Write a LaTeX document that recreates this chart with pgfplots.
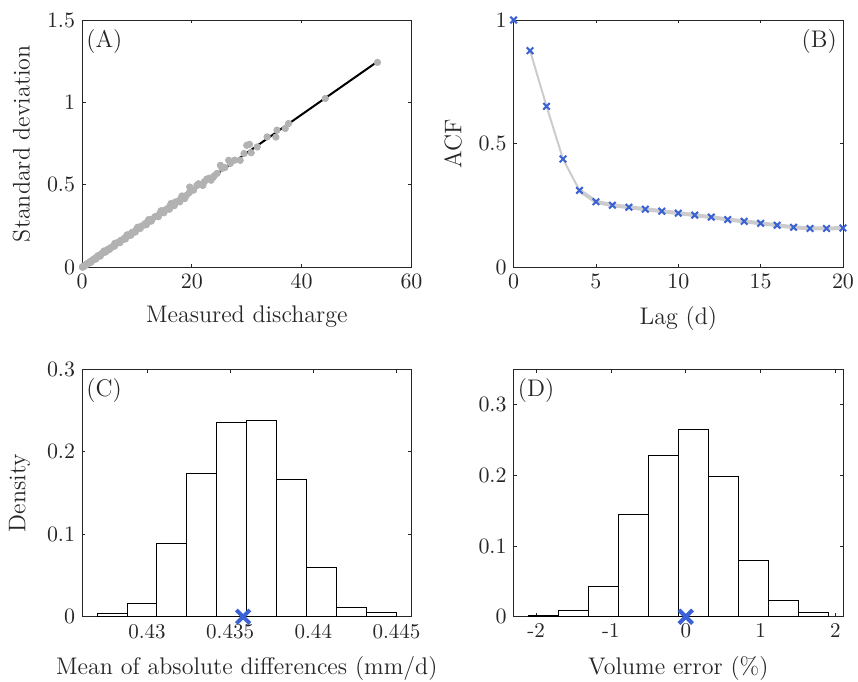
\documentclass[border=0pt]{standalone}
\usepackage{pgfplots}
\pgfplotsset{compat=1.18}
\usepgfplotslibrary{groupplots}
\usetikzlibrary{calc}

\definecolor{mblue}{RGB}{58,98,212}
\definecolor{lgray}{RGB}{204,204,204}
\definecolor{dotgray}{RGB}{178,178,178}
\definecolor{axgray}{RGB}{38,38,38}

\pgfplotsset{
  every tick label/.append style={font=\fontsize{10.5}{12}\selectfont, text=axgray},
  label style={font=\fontsize{12}{14}\selectfont, text=axgray},
  every axis/.append style={
    axis line style={axgray},
    tick style={axgray, line width=0.4pt},
    tick align=inside,
    major tick length=1.7pt,
    scale only axis,
    width=164.5pt, height=123.5pt,
    xlabel shift=2pt, ylabel shift=1.5pt,
  },
}

\begin{document}
\begin{tikzpicture}
\begin{groupplot}[
  group style={group size=2 by 2, horizontal sep=51pt, vertical sep=51pt},
]

% (A)
\nextgroupplot[
  xmin=0, xmax=60, ymin=0, ymax=1.5,
  xtick={0,20,40,60}, ytick={0,0.5,1,1.5},
  xlabel={Measured discharge}, ylabel={Standard deviation},
]
\addplot[only marks, mark=*, mark size=1.6pt, color=dotgray] coordinates {
(0.05,0.001) (0.1,0.002) (0.15,0.003) (0.2,0.004) (0.3,0.006) (0.4,0.009)
(0.5,0.011) (0.6,0.013) (0.7,0.016) (0.8,0.018) (0.9,0.020) (1.0,0.022)
(1.1,0.026) (1.2,0.027) (1.4,0.031) (1.5,0.035) (1.7,0.038) (1.9,0.043)
(2.0,0.047) (2.2,0.049) (2.4,0.055) (2.6,0.058) (2.8,0.065) (3.0,0.068)
(3.2,0.074) (3.4,0.077) (3.6,0.084) (3.9,0.088) (4.1,0.095) (4.4,0.099)
(4.6,0.107) (4.9,0.112) (5.2,0.119) (5.5,0.124) (5.8,0.135) (6.1,0.139)
(6.4,0.149) (6.7,0.152) (7.0,0.163) (7.3,0.166) (7.7,0.176) (8.0,0.184)
(8.4,0.192) (8.8,0.201) (9.1,0.212) (9.5,0.216) (9.9,0.229) (10.3,0.235)
(10.7,0.248) (11.1,0.254) (11.5,0.266) (11.9,0.271) (12.4,0.287) (12.8,0.293)
(13.3,0.308) (13.7,0.312) (14.2,0.328) (14.6,0.336) (15.1,0.348) (15.6,0.357)
(16.0,0.371) (16.5,0.378) (17.0,0.396) (17.5,0.401) (18.0,0.418) (18.4,0.422)
(19.0,0.436) (19.5,0.452) (19.6,0.487) (20.3,0.468) (20.9,0.497) (21.2,0.507)
(21.8,0.500) (22.3,0.520) (22.7,0.535) (23.2,0.541) (23.9,0.547) (24.1,0.556)
(24.6,0.570) (25.2,0.619) (25.5,0.600) (26.0,0.605) (26.7,0.649) (27.0,0.630)
(27.8,0.650) (28.8,0.649) (29.5,0.690) (30.0,0.740) (30.5,0.746) (30.8,0.695)
(31.9,0.730) (33.7,0.791) (35.3,0.790) (35.5,0.832) (37.0,0.842) (37.6,0.872)
(44.3,1.024) (53.8,1.243)
(1.6,0.030) (2.5,0.050) (3.3,0.068) (4.3,0.093) (5.0,0.108) (5.9,0.128)
(6.9,0.150) (7.9,0.172) (8.9,0.195) (9.7,0.214) (10.6,0.236) (11.7,0.258)
(12.6,0.280) (13.9,0.307) (14.9,0.331) (15.9,0.352) (16.8,0.374) (17.8,0.397)
(18.7,0.417) (2.9,0.071) (4.0,0.099) (6.0,0.146) (8.2,0.197) (10.1,0.243)
(12.1,0.289) (14.4,0.343) (16.2,0.387) (18.2,0.433) (22.0,0.497) (23.5,0.528)
};
\addplot[black, line width=1pt] coordinates {(0.2,0.0) (53.9,1.25)};
\node[anchor=north west, font=\fontsize{12}{14}\selectfont, text=axgray, inner sep=0pt] at (rel axis cs:0.012,0.965) {(A)};

% (B)
\nextgroupplot[
  xmin=0, xmax=20, ymin=0, ymax=1,
  xtick={0,5,10,15,20}, ytick={0,0.5,1},
  xlabel={Lag (d)}, ylabel={ACF},
]
\addplot[lgray, line width=1pt, line join=round] coordinates {
(1,0.876) (2,0.651) (3,0.438) (4,0.311) (5,0.270)
};
\addplot[lgray, line width=2pt, line join=round] coordinates {
(4,0.311) (5,0.265) (6,0.251) (7,0.243) (8,0.235) (9,0.227) (10,0.219)
(11,0.211) (12,0.203) (13,0.193) (14,0.186) (15,0.178) (16,0.170)
(17,0.162) (18,0.157) (19,0.157) (20,0.159)
};
\addplot[only marks, mark=x, mark size=2.3pt, color=mblue, line width=1pt] coordinates {
(0,1.0) (1,0.876) (2,0.651) (3,0.438) (4,0.311) (5,0.265) (6,0.251)
(7,0.243) (8,0.235) (9,0.227) (10,0.219) (11,0.211) (12,0.203) (13,0.193)
(14,0.186) (15,0.178) (16,0.170) (17,0.162) (18,0.157) (19,0.157) (20,0.159)
};
\node[anchor=north east, font=\fontsize{12}{14}\selectfont, text=axgray, inner sep=0pt] at (rel axis cs:0.982,0.965) {(B)};

% (C)
\nextgroupplot[
  xmin=0.4261, xmax=0.4459, ymin=0, ymax=0.3,
  xtick={0.43,0.435,0.44,0.445}, xticklabels={0.43,0.435,0.44,0.445},
  ytick={0,0.1,0.2,0.3},
  xlabel={Mean of absolute differences (mm/d)}, ylabel={Density},
]
\addplot[ybar interval, fill=white, draw=black, line width=0.5pt] coordinates {
(0.4270,0.0040) (0.4288,0.0160) (0.4306,0.0886) (0.4324,0.1740)
(0.4342,0.2360) (0.4360,0.2376) (0.4378,0.1660) (0.4396,0.0596)
(0.4414,0.0109) (0.4432,0.0048) (0.4450,0.0048)
};
\addplot[only marks, mark=x, mark size=4.8pt, color=mblue, line width=2pt] coordinates {(0.43578,0)};
\node[anchor=north west, font=\fontsize{12}{14}\selectfont, text=axgray, inner sep=0pt] at (rel axis cs:0.012,0.965) {(C)};

% (D)
\nextgroupplot[
  xmin=-2.3, xmax=2.1, ymin=0, ymax=0.35,
  xtick={-2,-1,0,1,2}, xticklabels={-2,-1,0,1,2},
  ytick={0,0.1,0.2,0.3},
  xlabel={Volume error (\%)},
]
\addplot[ybar interval, fill=white, draw=black, line width=0.5pt] coordinates {
(-2.1,0.0013) (-1.7,0.0089) (-1.3,0.0423) (-0.9,0.1446) (-0.5,0.2277)
(-0.1,0.2653) (0.3,0.1986) (0.7,0.0793) (1.1,0.0225) (1.5,0.0056) (1.9,0.0056)
};
\addplot[only marks, mark=x, mark size=4.8pt, color=mblue, line width=2pt] coordinates {(0,0)};
\node[anchor=north west, font=\fontsize{12}{14}\selectfont, text=axgray, inner sep=0pt] at (rel axis cs:0.012,0.965) {(D)};

\end{groupplot}
\pgfresetboundingbox
\path[use as bounding box] ($(group c1r1.north west)+(-41pt,10pt)$) rectangle ($(group c2r2.south east)+(7.5pt,-32.5pt)$);
\end{tikzpicture}
\end{document}
